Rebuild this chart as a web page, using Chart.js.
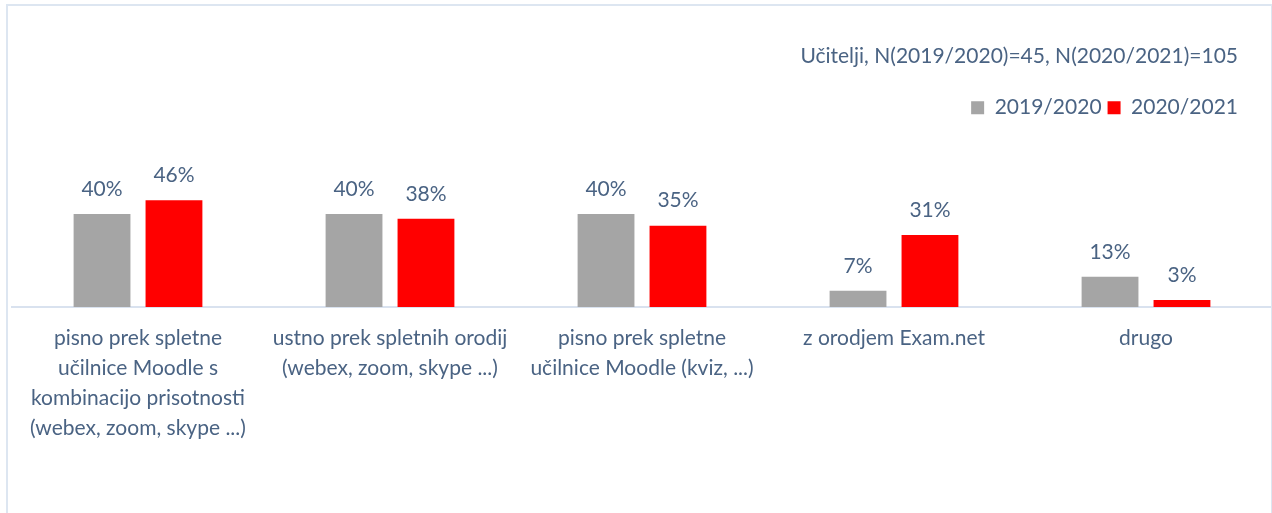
<!DOCTYPE html>
<html>
<head>
<meta charset="utf-8">
<script src="https://cdn.jsdelivr.net/npm/chart.js"></script>
<style>
  html, body { margin: 0; padding: 0; background: #ffffff; }
  #wrap { position: relative; width: 1272px; height: 513px; overflow: hidden; }
  #frame { position: absolute; left: 6px; top: 4px; width: 1263px; height: 600px; border: 2px solid #dde6f1; pointer-events: none; }
  canvas { position: absolute; left: 0; top: 0; }
</style>
</head>
<body>
<div id="wrap">
  <canvas id="c" width="1272" height="513"></canvas>
  <div id="frame"></div>
</div>
<script>
const categories = [
  ["pisno prek spletne", "učilnice Moodle s", "kombinacijo prisotnosti", "(webex, zoom, skype ...)"],
  ["ustno prek spletnih orodij", "(webex, zoom, skype ...)"],
  ["pisno prek spletne", "učilnice Moodle (kviz, ...)"],
  ["z orodjem Exam.net"],
  ["drugo"]
];
const seriesNames = ["2019/2020", "2020/2021"];
const values2019 = [40, 40, 40, 7, 13];
const values2020 = [46, 38, 35, 31, 3];
const titleText = "Učitelji, N(2019/2020)=45, N(2020/2021)=105";

const TEXT = '#4a6383';
const FONT = 'Lato, "Open Sans", sans-serif';

const valueLabels = {
  id: 'valueLabels',
  afterDatasetsDraw(chart) {
    const ctx = chart.ctx;
    ctx.save();
    ctx.font = '21px ' + FONT;
    ctx.fillStyle = TEXT;
    ctx.textAlign = 'center';
    ctx.textBaseline = 'middle';
    chart.data.datasets.forEach((ds, i) => {
      const meta = chart.getDatasetMeta(i);
      meta.data.forEach((bar, j) => {
        ctx.fillText(ds.data[j] + '%', bar.x, bar.y - 25);
      });
    });
    ctx.restore();
  }
};

// keep the title and legend inset from the right edge, like the original
const headerInset = {
  id: 'headerInset',
  afterLayout(chart) {
    if (chart.titleBlock) chart.titleBlock.right -= 34;
    if (chart.legend) chart.legend.right -= 28;
  }
};

new Chart(document.getElementById('c'), {
  type: 'bar',
  data: {
    labels: categories,
    datasets: [
      { label: seriesNames[0], data: values2019, backgroundColor: '#a5a5a5', categoryPercentage: 0.571, barPercentage: 0.79 },
      { label: seriesNames[1], data: values2020, backgroundColor: '#ff0000', categoryPercentage: 0.571, barPercentage: 0.79 }
    ]
  },
  options: {
    responsive: false,
    animation: false,
    devicePixelRatio: 1,
    layout: { padding: { left: 12, right: 0, top: 0, bottom: 54 } },
    plugins: {
      tooltip: { enabled: false },
      title: {
        display: true,
        text: titleText,
        align: 'end',
        color: TEXT,
        font: { family: FONT, size: 21, weight: 'normal' },
        padding: { top: 44, bottom: 22 }
      },
      legend: {
        display: true,
        position: 'top',
        align: 'end',
        labels: {
          color: TEXT,
          font: { family: FONT, size: 21 },
          boxWidth: 13,
          boxHeight: 13,
          padding: 6
        }
      }
    },
    scales: {
      x: {
        grid: { display: false, drawTicks: false },
        border: { display: true, color: '#d9e2ef', width: 2 },
        ticks: {
          color: TEXT,
          font: { family: FONT, size: 21, lineHeight: '30px' },
          padding: 16,
          maxRotation: 0,
          autoSkip: false
        }
      },
      y: {
        display: false,
        min: 0,
        max: 77
      }
    }
  },
  plugins: [valueLabels, headerInset]
});
</script>
</body>
</html>
